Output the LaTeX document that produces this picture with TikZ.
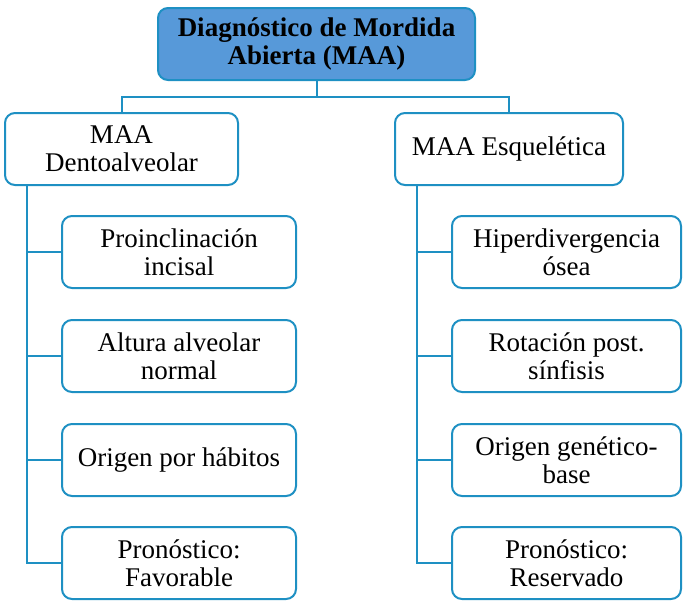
\documentclass[tikz,border=0pt]{standalone}
\usepackage{fontspec}
\setmainfont{Liberation Serif}
\usepackage{xcolor}
\usepackage{tikz}

\definecolor{maaline}{HTML}{1E90C3}
\definecolor{maafill}{HTML}{5799D9}

\begin{document}
\begin{tikzpicture}[x=1pt, y=-1pt,
    box/.style={draw=maaline, line width=2pt, rounded corners=10pt, fill=white, align=center, inner sep=0pt, minimum height=72pt, font=\fontsize{27}{28}\selectfont},
    link/.style={draw=maaline, line width=2pt}]
        \useasboundingbox (0,0) rectangle (685,614);

        % Root
        \node[box, fill=maafill, minimum width=317pt, font=\bfseries\fontsize{27}{28}\selectfont] (root) at (316.5,44) {Diagnóstico de Mordida\\Abierta (MAA)};

        % Two kinds
        \node[box, minimum width=233pt] (dento) at (121.5,149) {MAA\\Dentoalveolar};
        \node[box, minimum width=228pt] (esq) at (509,149) {MAA Esquelética};

        % Dentoalveolar features
        \node[box, minimum width=234pt] (dento1) at (179,252) {Proinclinación\\incisal};
        \node[box, minimum width=234pt] (dento2) at (179,356) {Altura alveolar\\normal};
        \node[box, minimum width=234pt] (dento3) at (179,460) {Origen por hábitos};
        \node[box, minimum width=234pt] (dento4) at (179,563) {Pronóstico:\\Favorable};

        % Skeletal features
        \node[box, minimum width=229pt] (esq1) at (566.5,252) {Hiperdivergencia\\ósea};
        \node[box, minimum width=229pt] (esq2) at (566.5,356) {Rotación post.\\sínfisis};
        \node[box, minimum width=229pt] (esq3) at (566.5,460) {Origen genético-\\base};
        \node[box, minimum width=229pt] (esq4) at (566.5,563) {Pronóstico:\\Reservado};

        % Root to kinds
        \draw[link] (root.south) -- ++(0,16) coordinate (split) -| (dento.north);
        \draw[link] (split) -| (esq.north);

        % Spines
        \draw[link] ([xshift=23pt]dento.south west) |- (dento1.west);
        \draw[link] ([xshift=23pt]dento.south west) |- (dento2.west);
        \draw[link] ([xshift=23pt]dento.south west) |- (dento3.west);
        \draw[link] ([xshift=23pt]dento.south west) |- (dento4.west);
        \draw[link] ([xshift=23pt]esq.south west) |- (esq1.west);
        \draw[link] ([xshift=23pt]esq.south west) |- (esq2.west);
        \draw[link] ([xshift=23pt]esq.south west) |- (esq3.west);
        \draw[link] ([xshift=23pt]esq.south west) |- (esq4.west);
    \end{tikzpicture}
\end{document}
